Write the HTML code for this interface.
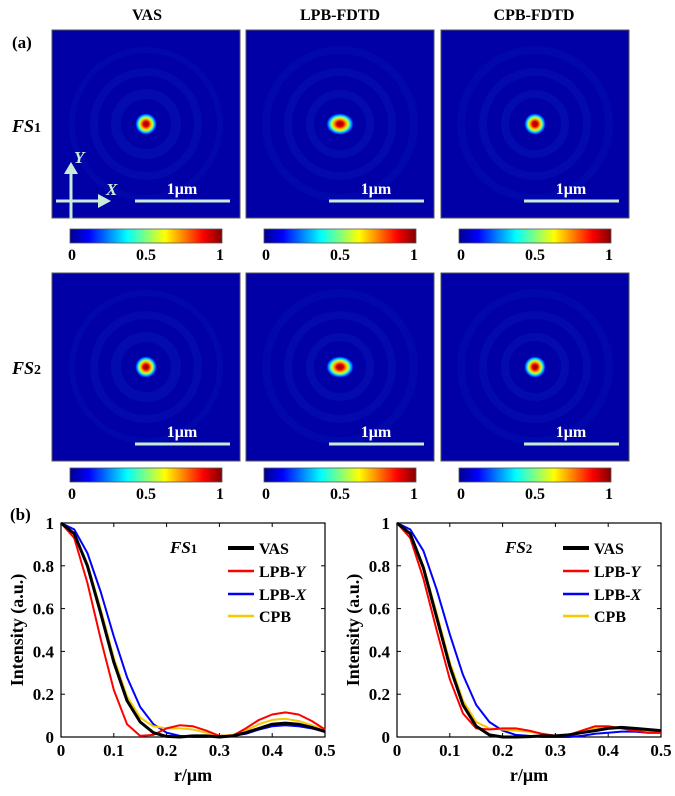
<!DOCTYPE html>
<html><head><meta charset="utf-8"><style>
body{margin:0;background:#fff}
svg text{font-family:"Liberation Serif",serif;font-weight:bold}
</style></head><body>
<svg id="fig" width="675" height="791" viewBox="0 0 675 791" xmlns="http://www.w3.org/2000/svg">
<defs>
<linearGradient id="jet" x1="0" x2="1" y1="0" y2="0">
<stop offset="0" stop-color="#00008f"/><stop offset="0.125" stop-color="#0000ff"/><stop offset="0.375" stop-color="#00ffff"/><stop offset="0.625" stop-color="#ffff00"/><stop offset="0.875" stop-color="#ff0000"/><stop offset="1" stop-color="#800000"/>
</linearGradient>
<radialGradient id="spot">
<stop offset="0" stop-color="#8a0000"/><stop offset="0.25" stop-color="#e00000"/><stop offset="0.45" stop-color="#ffb000"/><stop offset="0.6" stop-color="#c0ff40"/><stop offset="0.75" stop-color="#00d0ff"/><stop offset="0.9" stop-color="#0030ff"/><stop offset="1" stop-color="#0000a0" stop-opacity="0"/>
</radialGradient>
</defs>
<text x="147" y="20" font-size="16" text-anchor="middle">VAS</text>
<text x="340" y="20" font-size="16" text-anchor="middle">LPB-FDTD</text>
<text x="534" y="20" font-size="16" text-anchor="middle">CPB-FDTD</text>
<text x="12" y="48" font-size="17">(a)</text>
<text x="12" y="132" font-size="18"><tspan font-style="italic">FS</tspan><tspan font-size="14">1</tspan></text>
<text x="12" y="374" font-size="18"><tspan font-style="italic">FS</tspan><tspan font-size="14">2</tspan></text>
<text x="10" y="520" font-size="17">(b)</text>
<g id="maps"></g>
<g id="charts"></g>
</svg>
<script>
const NS="http://www.w3.org/2000/svg";
const rVals=[0,0.025,0.05,0.075,0.1,0.125,0.15,0.175,0.2,0.225,0.25,0.275,0.3,0.325,0.35,0.375,0.4,0.425,0.45,0.475,0.5];
const fs1Vas=[1,.95,.80,.58,.35,.17,.07,.02,.003,0,.005,.005,0,.005,.02,.04,.06,.065,.06,.045,.025];
const fs1LpbY=[1,.93,.72,.46,.22,.06,.005,.01,.04,.055,.05,.03,.005,.005,.04,.08,.105,.115,.105,.075,.035];
const fs1LpbX=[1,.97,.86,.68,.47,.28,.14,.06,.02,.005,0,0,.005,.005,.015,.035,.05,.055,.05,.04,.025];
const fs1Cpb=[1,.95,.81,.60,.37,.19,.09,.05,.04,.04,.035,.02,.005,.01,.03,.06,.08,.085,.075,.055,.03];
const fs2Vas=[1,.95,.79,.56,.33,.15,.05,.01,0,0,.002,.005,.005,.01,.02,.03,.04,.045,.04,.035,.03];
const fs2LpbY=[1,.93,.74,.50,.27,.11,.04,.035,.04,.04,.03,.015,.005,.01,.03,.05,.05,.04,.03,.02,.02];
const fs2LpbX=[1,.97,.87,.69,.48,.29,.15,.07,.03,.01,.005,0,0,0,.005,.015,.02,.025,.025,.02,.02];
const fs2Cpb=[1,.95,.80,.58,.35,.17,.07,.04,.035,.03,.025,.015,.005,.01,.025,.04,.045,.04,.035,.03,.03];
const xTicks=[0,0.1,0.2,0.3,0.4,0.5];
const yTicks=[0,0.2,0.4,0.6,0.8,1];
const legendNames=["VAS","LPB-","LPB-","CPB"];

function mk(tag,attrs,parent){const e=document.createElementNS(NS,tag);for(const k in attrs)e.setAttribute(k,attrs[k]);parent.appendChild(e);return e;}

const maps=document.getElementById('maps');
const cols=[52,246,441], rows=[30,273], W=188;
rows.forEach((y0,ri)=>cols.forEach((x0,ci)=>{
  const g=mk('g',{},maps);
  
  
  mk('rect',{x:x0,y:y0,width:W,height:W,fill:'#0000a6',stroke:'#555','stroke-width':1},g);
  const cx=x0+W/2, cy=y0+W/2;
  [30,52,74].forEach((r,i)=>mk('circle',{cx:cx,cy:cy,r:r,fill:'none',stroke:'#0a1fc0','stroke-width':ci==0?10-i*2:8,opacity:0.35-i*0.07},g));
  const sx=ci==1?14:11;
  mk('ellipse',{cx:cx,cy:cy,rx:sx,ry:11,fill:'url(#spot)'},g);
  const bx=x0+W-105, by=y0+171;
  const bar=mk('line',{x1:bx,y1:by,x2:bx+95,y2:by,stroke:'#c8ecd8','stroke-width':3},g);
  
  
  const t=mk('text',{x:bx+47,y:by-7,'font-size':16,fill:'#ffffff','text-anchor':'middle'},g);t.textContent='1μm';
  const cbx=x0+18, cby=y0+(ri==0?199:195);
  const cb=mk('rect',{x:cbx,y:cby,width:152,height:14,fill:'url(#jet)',stroke:'#555','stroke-width':0.8},maps);
  
  
  [['0',cbx+2],['0.5',cbx+76],['1',cbx+150]].forEach(([s,x])=>{const tt=mk('text',{x:x,y:cby+31,'font-size':16,'text-anchor':'middle'},maps);tt.textContent=s;});
}));
(function(){const g=mk('g',{},maps);
 
 
 const c='#c8ecd8';
 mk('line',{x1:71,y1:219,x2:71,y2:172,stroke:c,'stroke-width':3},g);
 mk('polygon',{points:'64,174 78,174 71,162',fill:c},g);
 mk('line',{x1:56,y1:201,x2:100,y2:201,stroke:c,'stroke-width':3},g);
 mk('polygon',{points:'98,194 98,208 111,201',fill:c},g);
 const ty=mk('text',{x:74,y:163,'font-size':17,fill:c,'font-style':'italic'},g);ty.textContent='Y';
 const tx=mk('text',{x:106,y:195,'font-size':17,fill:c,'font-style':'italic'},g);tx.textContent='X';
})();

const charts=document.getElementById('charts');
function chart(px0,px1,label,sub,series,lx){
  const py0=737, py1=523;
  const xs=v=>px0+(v/0.5)*(px1-px0), ys=v=>py0-v*(py0-py1);
  const g=mk('g',{},charts);
  
  
  mk('rect',{x:px0,y:py1,width:px1-px0,height:py0-py1,fill:'#fff',stroke:'#000','stroke-width':1.2},g);
  xTicks.forEach(v=>{mk('line',{x1:xs(v),y1:py0,x2:xs(v),y2:py0-4,stroke:'#000'},g);mk('line',{x1:xs(v),y1:py1,x2:xs(v),y2:py1+4,stroke:'#000'},g);
    const t=mk('text',{x:xs(v),y:py0+19,'font-size':17,'text-anchor':'middle'},g);t.textContent=String(v);});
  yTicks.forEach(v=>{mk('line',{x1:px0,y1:ys(v),x2:px0+4,y2:ys(v),stroke:'#000'},g);mk('line',{x1:px1,y1:ys(v),x2:px1-4,y2:ys(v),stroke:'#000'},g);
    const t=mk('text',{x:px0-7,y:ys(v)+6,'font-size':17,'text-anchor':'end'},g);t.textContent=String(v);});
  const xl=mk('text',{x:(px0+px1)/2,y:py0+44,'font-size':18,'text-anchor':'middle'},g);xl.textContent='r/μm';
  
  
  const yl=mk('text',{x:0,y:0,'font-size':18,'text-anchor':'middle',transform:`translate(${px0-38},${(py0+py1)/2}) rotate(-90)`},g);yl.textContent='Intensity (a.u.)';
  
  
  const colors=['#000','#f00','#00f','#f5c800'];
  const widths=[3,2,2,2];
  const order=[2,3,1,0];
  order.forEach(i=>{
    const d=series[i].map((v,k)=>(k?'L':'M')+xs(rVals[k]).toFixed(1)+','+ys(v).toFixed(1)).join('');
    const p=mk('path',{d:d,fill:'none',stroke:colors[i],'stroke-width':widths[i],'stroke-linejoin':'round'},g);
    
    
  });
  const fl=mk('text',{x:lx-58,y:553,'font-size':17},g);
  fl.innerHTML='<tspan font-style="italic">FS</tspan><tspan font-size="13">'+sub+'</tspan>';
  const ly=[548,571,594,616];
  legendNames.forEach((n,i)=>{
    const le=mk('g',{},g);
    
    
    mk('line',{x1:lx,y1:ly[i],x2:lx+26,y2:ly[i],stroke:colors[i],'stroke-width':i==0?4:2.5},le);
    const t=mk('text',{x:lx+31,y:ly[i]+6,'font-size':16},le);
    t.innerHTML=n+(i==1?'<tspan font-style="italic">Y</tspan>':i==2?'<tspan font-style="italic">X</tspan>':'');
  });
}
chart(61,325,'FS','1',[fs1Vas,fs1LpbY,fs1LpbX,fs1Cpb],228);
chart(397,661,'FS','2',[fs2Vas,fs2LpbY,fs2LpbX,fs2Cpb],563);
</script>
</body></html>
